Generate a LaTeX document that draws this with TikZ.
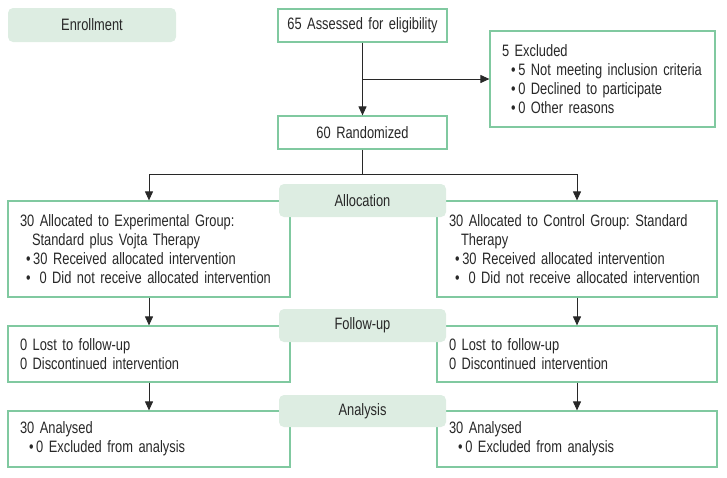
\documentclass[tikz,border=0pt]{standalone}
\usepackage{fontspec}
\setmainfont{Liberation Sans}[FakeStretch=0.78, WordSpace=0.8]
\frenchspacing
\usetikzlibrary{arrows.meta}

\definecolor{boxline}{RGB}{128,201,160}
\definecolor{stagefill}{RGB}{221,237,226}
\definecolor{inktext}{RGB}{40,40,40}

\tikzset{
  flowbox/.style 2 args={draw=boxline, line width=1.2pt, fill=white,
    minimum width=#1, minimum height=#2, text width=#1-24pt,
    inner xsep=12pt, inner ysep=0pt, align=left, text=inktext},
  stagebox/.style={fill=stagefill, rounded corners=5pt, minimum width=167pt,
    minimum height=33pt, inner sep=0pt, text=inktext},
  flowarrow/.style={-{Triangle[length=9pt,width=8pt]}, line width=1pt, draw=inktext},
  flowline/.style={line width=1pt, draw=inktext},
}

\begin{document}
\begin{tikzpicture}[x=1pt, y=-1pt, font=\fontsize{16.5}{19}\selectfont]
  \useasboundingbox (0,0) rectangle (727,477);

  % Enrollment
  \node[stagebox, minimum width=168pt, minimum height=34pt] (enroll) at (92,25) {Enrollment};
  \node[flowbox={169pt}{33pt}, align=center, inner xsep=2pt, text width=165pt] (assess) at (362.5,25.5) {65 Assessed for eligibility};
  \node[flowbox={169pt}{33pt}, align=center] (rand) at (362.5,132.5) {60 Randomized};
  \node[flowbox={225pt}{96pt}] (excl) at (602.5,79) {5 Excluded\\
    \hspace*{9pt}\textbullet\,5 Not meeting inclusion criteria\\
    \hspace*{9pt}\textbullet\,0 Declined to participate\\
    \hspace*{9pt}\textbullet\,0 Other reasons};

  \coordinate (split) at (362.5,79);
  \coordinate (fork) at (362.5,174);

  % Allocation
  \node[flowbox={282pt}{96pt}] (expalloc) at (149,249) {30 Allocated to Experimental Group:\\
    \hspace*{12pt}Standard plus Vojta Therapy\\
    \hspace*{6pt}\textbullet\,30 Received allocated intervention\\
    \hspace*{6pt}\textbullet\hspace{9pt}0 Did not receive allocated intervention};
  \node[flowbox={280pt}{96pt}] (ctlalloc) at (577,249) {30 Allocated to Control Group: Standard\\
    \hspace*{12pt}Therapy\\
    \hspace*{6pt}\textbullet\,30 Received allocated intervention\\
    \hspace*{6pt}\textbullet\hspace{9pt}0 Did not receive allocated intervention};

  % Follow-up
  \node[flowbox={282pt}{56pt}] (expfollow) at (149,354) {0 Lost to follow-up\\0 Discontinued intervention};
  \node[flowbox={280pt}{56pt}] (ctlfollow) at (577,354) {0 Lost to follow-up\\0 Discontinued intervention};

  % Analysis
  \node[flowbox={282pt}{56pt}] (expanal) at (149,439) {30 Analysed\\
    \hspace*{9pt}\textbullet\,0 Excluded from analysis};
  \node[flowbox={280pt}{56pt}] (ctlanal) at (577,439) {30 Analysed\\
    \hspace*{9pt}\textbullet\,0 Excluded from analysis};

  % stage labels sit over the boxes
  \node[stagebox] (alloclab) at (362.5,200.5) {Allocation};
  \node[stagebox] (followlab) at (362.5,325.5) {Follow-up};
  \node[stagebox, minimum height=32pt] (analysislab) at (362.5,411) {Analysis};

  \draw[flowarrow] (assess) -- (rand);
  \draw[flowarrow] (split) -- (excl.west);
  \draw[flowline] (rand) -- (fork);
  \draw[flowarrow] (fork) -| (expalloc.north);
  \draw[flowarrow] (fork) -| (ctlalloc.north);
  \draw[flowarrow] (expalloc) -- (expfollow);
  \draw[flowarrow] (ctlalloc) -- (ctlfollow);
  \draw[flowarrow] (expfollow) -- (expanal);
  \draw[flowarrow] (ctlfollow) -- (ctlanal);
\end{tikzpicture}
\end{document}
